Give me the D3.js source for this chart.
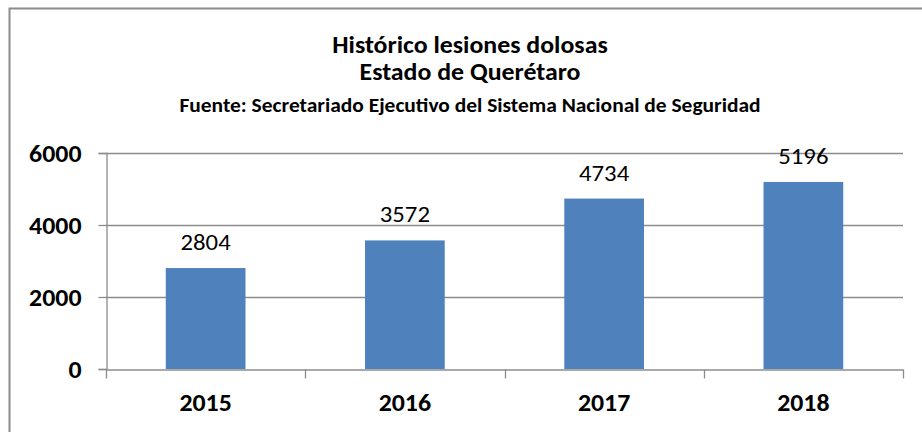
<!DOCTYPE html>
<html>
<head>
<meta charset="utf-8">
<script src="https://cdn.jsdelivr.net/npm/d3@7"></script>
<style>
  body { margin: 0; background: #fff; }
  svg text { font-family: Carlito, "Liberation Sans Narrow", "Open Sans", sans-serif; fill: #000; }
</style>
</head>
<body>
<div id="chart"></div>
<script>
// datos
var years = ['2015', '2016', '2017', '2018'];
var lesiones = [2804, 3572, 4734, 5196];
var yTicks = [0, 2000, 4000, 6000];
var titleLines = ['Histórico lesiones dolosas', 'Estado de Querétaro'];
var subtitle = 'Fuente: Secretariado Ejecutivo del Sistema Nacional de Seguridad';

var width = 922;
var height = 432;
var margin = { top: 153, left: 106, right: 19, bottom: 63 };
var sx = 1.1; // el texto original esta algo estirado a lo ancho

var svg = d3.select('#chart')
    .append('svg')
    .attr('width', width)
    .attr('height', height);

// estira un texto horizontalmente manteniendo su posicion x
function stretch(sel) {
    sel.each(function () {
        var t = d3.select(this);
        var x0 = +t.attr('x') || 0;
        t.attr('x', x0 / sx).attr('transform', 'scale(' + sx + ',1)');
    });
}

// borde del area del grafico
svg.append('rect')
    .attr('x', 9.5).attr('y', 8.5)
    .attr('width', width + 20).attr('height', height + 20)
    .style('fill', 'none')
    .style('stroke', '#8c8c8c')
    .style('stroke-width', 2);

// titulos
svg.selectAll('.title')
    .data(titleLines).enter()
    .append('text')
    .attr('class', 'title')
    .attr('x', 470)
    .attr('y', function (d, i) { return 53 + i * 27; })
    .attr('text-anchor', 'middle')
    .style('font-size', '23.5px')
    .style('font-weight', 'bold')
    .text(function (d) { return d; })
    .call(stretch);

svg.append('text')
    .attr('x', 470)
    .attr('y', 112)
    .attr('text-anchor', 'middle')
    .style('font-size', '19.5px')
    .style('font-weight', 'bold')
    .text(subtitle)
    .call(stretch);

var x = d3.scaleBand()
    .domain(years)
    .range([margin.left, width - margin.right])
    .paddingInner(0.6)
    .paddingOuter(0.3);

var xb = d3.scaleBand() // para las marcas entre categorias
    .domain(years)
    .range([margin.left, width - margin.right]);

var y = d3.scaleLinear()
    .domain([0, 6000])
    .range([height - margin.bottom, margin.top]);

// lineas de cuadricula
svg.append('g')
    .selectAll('line')
    .data(yTicks.slice(1)).enter()
    .append('line')
    .attr('x1', margin.left).attr('x2', width - margin.right)
    .attr('y1', function (d) { return y(d) + 0.5; })
    .attr('y2', function (d) { return y(d) + 0.5; })
    .style('stroke', '#8c8c8c')
    .style('stroke-width', 1.3);

// barras
svg.selectAll('rect.bar')
    .data(lesiones).enter()
    .append('rect')
    .attr('class', 'bar')
    .attr('x', function (d, i) { return x(years[i]); })
    .attr('y', function (d) { return y(d); })
    .attr('width', x.bandwidth())
    .attr('height', function (d) { return y(0) - y(d); })
    .style('fill', '#4f81bd');

// etiquetas de valor
svg.selectAll('text.val')
    .data(lesiones).enter()
    .append('text')
    .attr('class', 'val')
    .attr('x', function (d, i) { return x(years[i]) + x.bandwidth() / 2; })
    .attr('y', function (d) { return y(d) - 18; })
    .attr('text-anchor', 'middle')
    .style('font-size', '22.5px')
    .text(function (d) { return d; })
    .call(stretch);

// eje y
var yAxis = svg.append('g')
    .attr('transform', 'translate(' + (margin.left + 0.5) + ',0)')
    .call(d3.axisLeft(y).tickValues(yTicks).tickSize(8).tickPadding(17).tickFormat(d3.format('d')));
yAxis.select('.domain').style('stroke', '#8c8c8c').style('stroke-width', 1.3);
yAxis.selectAll('.tick line').style('stroke', '#8c8c8c').style('stroke-width', 1.3);
yAxis.selectAll('.tick text')
    .attr('dy', 8)
    .style('font-size', '23.5px')
    .style('font-weight', 'bold')
    .style('font-family', 'Carlito, "Liberation Sans Narrow", "Open Sans", sans-serif')
    .call(stretch);

// eje x
var xAxis = svg.append('g')
    .attr('transform', 'translate(0,' + (y(0) + 0.5) + ')')
    .call(d3.axisBottom(xb).tickSize(0).tickPadding(0).tickSizeOuter(0));
xAxis.select('.domain').style('stroke', '#8c8c8c').style('stroke-width', 1.3);
xAxis.selectAll('.tick text')
    .attr('dy', 42)
    .style('font-size', '23.5px')
    .style('font-weight', 'bold')
    .style('font-family', 'Carlito, "Liberation Sans Narrow", "Open Sans", sans-serif')
    .call(stretch);

// marcas entre categorias
var bounds = years.map(function (d) { return xb(d); }).concat([width - margin.right]);
xAxis.selectAll('line.sep')
    .data(bounds).enter()
    .append('line')
    .attr('class', 'sep')
    .attr('x1', function (d) { return Math.round(d) + 0.5; })
    .attr('x2', function (d) { return Math.round(d) + 0.5; })
    .attr('y1', 0).attr('y2', 9)
    .style('stroke', '#8c8c8c')
    .style('stroke-width', 1.3);
</script>
</body>
</html>
